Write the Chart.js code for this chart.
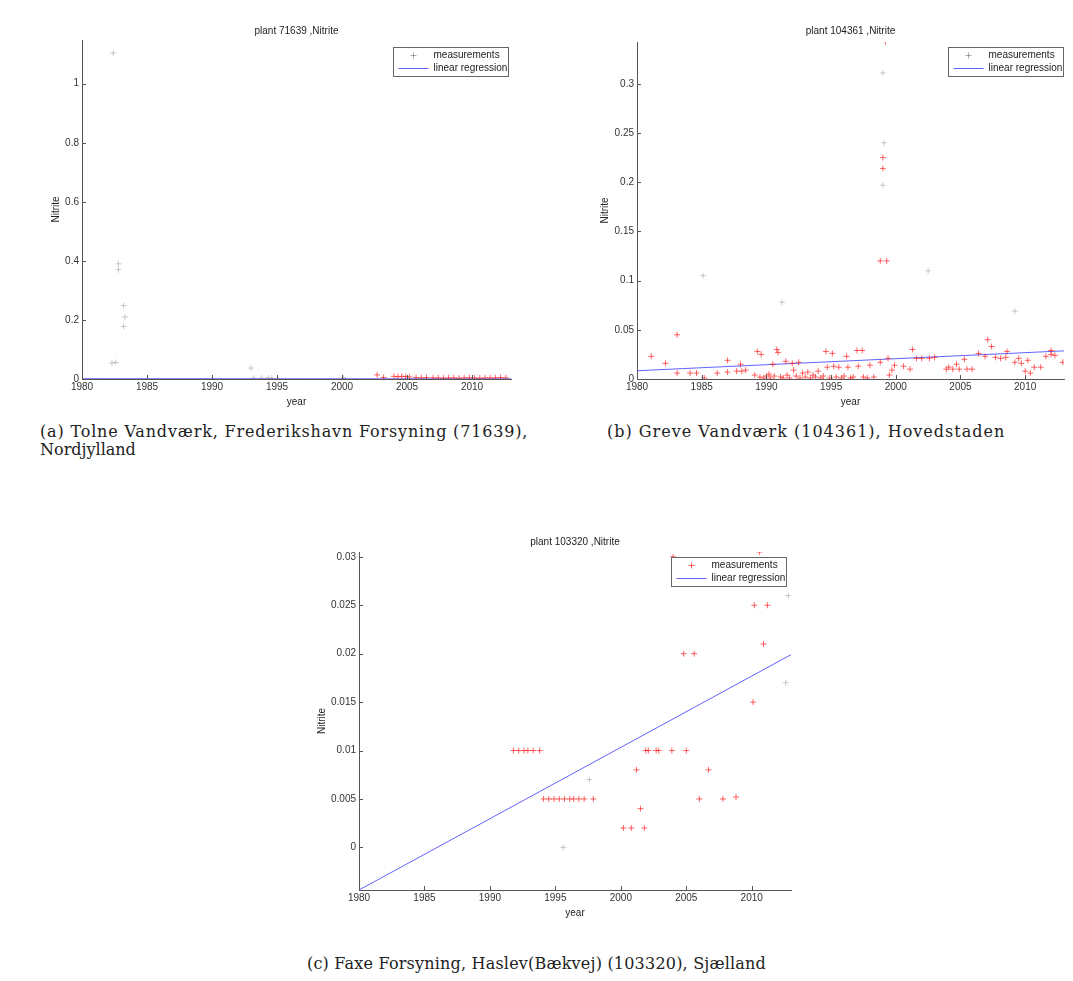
<!DOCTYPE html>
<html>
<head>
<meta charset="utf-8">
<script src="https://cdn.jsdelivr.net/npm/chart.js@4.4.0/dist/chart.umd.min.js"></script>
<style>
  body { margin: 0; background: #fff; width: 1073px; height: 981px; position: relative; overflow: hidden; }
  canvas { position: absolute; }
  .cap { position: absolute; font-family: "DejaVu Serif", "Liberation Serif", serif; font-size: 16px; line-height: 18px; color: #222; white-space: nowrap; }
</style>
</head>
<body>
<canvas id="plotA" width="540" height="420" style="left:0;top:0"></canvas>
<canvas id="plotB" width="528" height="420" style="left:545px;top:0"></canvas>
<canvas id="plotC" width="560" height="440" style="left:270px;top:500px"></canvas>

<div class="cap" data-w="488" style="left:40px;top:423px">(a) Tolne Vandværk, Frederikshavn Forsyning (71639),</div>
<div class="cap" style="left:40px;top:441px">Nordjylland</div>
<div class="cap" data-w="455" style="left:607px;top:423px">(b) Greve Vandværk (104361), Hovedstaden</div>
<div class="cap" data-w="459" style="left:307px;top:955px">(c) Faxe Forsyning, Haslev(Bækvej) (103320), Sjælland</div>

<script>
// x range of the regression lines
let regYears = [1980, 2013];

// plant 71639
let yearsA = [2002.7, 2003.2, 2004.0, 2004.3, 2004.6, 2004.9, 2005.2, 2005.7, 2006.1, 2006.5, 2007.0, 2007.4, 2007.8,
              2008.2, 2008.6, 2009.0, 2009.4, 2009.8, 2010.2, 2010.6, 2011.0, 2011.4, 2011.8, 2012.2, 2012.6];
let nitriteA = [0.014, 0.005, 0.009, 0.008, 0.009, 0.008, 0.007, 0.005, 0.004, 0.005, 0.004, 0.004, 0.003,
                0.004, 0.004, 0.003, 0.004, 0.004, 0.004, 0.003, 0.004, 0.004, 0.004, 0.005, 0.004];
let yearsAFaint = [1982.4, 1982.3, 1982.6, 1982.8, 1982.8, 1983.2, 1983.3, 1983.2, 1993.0, 1993.2, 1993.8, 1994.3, 1994.6, 2000.1];
let nitriteAFaint = [1.104, 0.054, 0.056, 0.39, 0.37, 0.249, 0.21, 0.178, 0.037, 0.003, 0.003, 0.003, 0.003, 0.004];
let regA = [0.001, 0.0005];

// plant 104361
let yearsB = [1981.1, 1982.2, 1983.1, 1983.1, 1984.1, 1984.6, 1985.2, 1986.2, 1987.0, 1987.0, 1987.7, 1988.0, 1988.1, 1988.4,
              1989.1, 1989.3, 1989.5, 1989.6, 1989.8, 1990.0, 1990.2, 1990.3, 1990.5, 1990.6, 1990.8, 1990.9, 1991.1, 1991.3,
              1991.5, 1991.6, 1991.8, 1992.0, 1992.1, 1992.3, 1992.5, 1992.6, 1992.8, 1993.0, 1993.2, 1993.4, 1993.6, 1993.8,
              1994.0, 1994.2, 1994.4, 1994.6, 1994.7, 1994.9, 1995.1, 1995.2, 1995.4, 1995.6, 1995.8, 1996.0, 1996.2, 1996.3,
              1996.5, 1996.7, 1997.0, 1997.1, 1997.4, 1997.5, 1997.8, 1998.0, 1998.3, 1998.8, 1998.8, 1999.2, 1999.0, 1999.0,
              1999.3, 1999.4, 1999.5, 1999.7, 1999.9, 2000.6, 2001.1, 2001.3, 2001.6, 2002.0, 2002.6, 2003.0, 2003.9, 2004.1,
              2004.4, 2004.7, 2004.9, 2005.3, 2005.5, 2005.9, 2006.4, 2006.9, 2007.1, 2007.4, 2007.7, 2008.1, 2008.5, 2008.6,
              2009.2, 2009.5, 2009.7, 2010.0, 2010.2, 2010.4, 2010.7, 2011.2, 2011.6, 2012.0, 2012.0, 2012.3, 2012.9];
let nitriteB = [0.023, 0.016, 0.045, 0.006, 0.006, 0.006, 0.001, 0.006, 0.019, 0.007, 0.008, 0.015, 0.008, 0.009,
                0.004, 0.028, 0.002, 0.025, 0.001, 0.003, 0.005, 0.001, 0.015, 0.003, 0.030, 0.027, 0.002, 0.001,
                0.018, 0.004, 0.001, 0.016, 0.009, 0.003, 0.017, 0.001, 0.006, 0.002, 0.007, 0.001, 0.004, 0.002,
                0.008, 0.001, 0.003, 0.028, 0.012, 0.001, 0.026, 0.013, 0.002, 0.012, 0.001, 0.003, 0.023, 0.012,
                0.001, 0.002, 0.029, 0.013, 0.029, 0.002, 0.001, 0.014, 0.002, 0.017, 0.120, 0.343, 0.225, 0.214,
                0.120, 0.021, 0.004, 0.009, 0.014, 0.013, 0.010, 0.030, 0.021, 0.021, 0.021, 0.022, 0.010, 0.012,
                0.010, 0.015, 0.010, 0.020, 0.010, 0.010, 0.026, 0.023, 0.040, 0.033, 0.022, 0.021, 0.022, 0.028,
                0.017, 0.021, 0.016, 0.008, 0.019, 0.006, 0.012, 0.012, 0.023, 0.029, 0.025, 0.024, 0.017];
let yearsBFaint = [1985.1, 1991.2, 2002.5, 2009.2, 1999.0, 1999.1, 1999.0];
let nitriteBFaint = [0.105, 0.078, 0.110, 0.069, 0.311, 0.240, 0.197];
let regB = [0.0084, 0.0286];

// plant 103320
let yearsC = [1991.8, 1992.2, 1992.6, 1992.9, 1993.3, 1993.8, 1994.1, 1994.5, 1994.9, 1995.3, 1995.7, 1996.1, 1996.4,
              1996.8, 1997.2, 1997.9, 2000.2, 2000.8, 2001.8, 2001.2, 2001.5, 2001.9, 2002.1, 2002.7, 2002.9, 2003.9,
              2005.0, 2004.0, 2004.8, 2005.6, 2006.0, 2006.7, 2007.8, 2008.8, 2010.1, 2010.2, 2011.2, 2010.6, 2010.9];
let nitriteC = [0.010, 0.010, 0.010, 0.010, 0.010, 0.010, 0.005, 0.005, 0.005, 0.005, 0.005, 0.005, 0.005,
                0.005, 0.005, 0.005, 0.002, 0.002, 0.002, 0.008, 0.004, 0.010, 0.010, 0.010, 0.010, 0.010,
                0.010, 0.030, 0.020, 0.020, 0.005, 0.008, 0.005, 0.0052, 0.015, 0.025, 0.025, 0.0305, 0.021];
let yearsCFaint = [1995.6, 1997.6, 2012.8, 2012.6];
let nitriteCFaint = [0.0, 0.007, 0.026, 0.017];
let regC = [-0.0044, 0.0199];

const family = '"Liberation Sans", Arial, sans-serif';
const red = 'rgba(255, 0, 0, 0.6)';
const faint = 'rgba(110, 110, 110, 0.35)';
const blue = 'rgba(70, 70, 255, 0.85)';

function zip(xs, ys) {
    return xs.map((x, i) => ({ x: x, y: ys[i] }));
}

// widen the captions a little towards the width they have on the scanned page
document.querySelectorAll('.cap[data-w]').forEach(el => {
    let natural = el.getBoundingClientRect().width;
    let ls = Math.max(Math.min((+el.dataset.w - natural) / el.textContent.length, 1), 0);
    el.style.letterSpacing = ls.toFixed(2) + 'px';
});

// MATLAB style ticks pointing into the axes
const inwardTicks = {
    id: 'inwardTicks',
    afterDatasetsDraw(chart) {
        const { ctx, chartArea, scales } = chart;
        ctx.save();
        ctx.strokeStyle = '#555';
        ctx.lineWidth = 1;
        ctx.beginPath();
        scales.x.ticks.forEach(t => {
            let px = Math.round(scales.x.getPixelForValue(t.value)) + 0.5;
            ctx.moveTo(px, chartArea.bottom);
            ctx.lineTo(px, chartArea.bottom - 4);
        });
        scales.y.ticks.forEach(t => {
            let py = Math.round(scales.y.getPixelForValue(t.value)) + 0.5;
            ctx.moveTo(chartArea.left, py);
            ctx.lineTo(chartArea.left + 4, py);
        });
        ctx.stroke();
        ctx.restore();
    }
};

// boxed legend inside the top right corner
const boxLegend = {
    id: 'boxLegend',
    afterDraw(chart, args, opts) {
        const { ctx, chartArea } = chart;
        const w = 115, h = 29;
        const x0 = Math.round(chartArea.right - opts.right - w) + 0.5;
        const y0 = Math.round(chartArea.top + opts.top) + 0.5;
        const sets = chart.data.datasets.filter(d => d.label);
        ctx.save();
        ctx.fillStyle = '#fff';
        ctx.fillRect(x0, y0, w, h);
        ctx.strokeStyle = '#666';
        ctx.lineWidth = 1;
        ctx.strokeRect(x0, y0, w, h);
        ctx.font = '10px ' + family;
        ctx.textBaseline = 'middle';
        sets.forEach((d, i) => {
            let ry = y0 + 8 + i * 13;
            ctx.strokeStyle = i === 0 ? opts.markerColor : d.borderColor;
            ctx.beginPath();
            if (d.showLine) {
                ctx.moveTo(x0 + 5, ry);
                ctx.lineTo(x0 + 35, ry);
            } else {
                ctx.moveTo(x0 + 17, ry);
                ctx.lineTo(x0 + 23, ry);
                ctx.moveTo(x0 + 20, ry - 3);
                ctx.lineTo(x0 + 20, ry + 3);
            }
            ctx.stroke();
            ctx.fillStyle = '#222';
            ctx.fillText(d.label, x0 + 40, ry);
        });
        ctx.restore();
    }
};

function makeChart(id, o) {
    let font = { size: 10, family: family };
    return new Chart(document.getElementById(id), {
        type: 'scatter',
        data: {
            datasets: [{
                label: 'measurements',
                data: zip(o.years, o.values),
                pointStyle: 'cross',
                pointRadius: 3,
                pointBorderWidth: 1,
                borderColor: red,
                pointBorderColor: red
            }, {
                label: '',
                data: zip(o.fYears, o.fValues),
                pointStyle: 'cross',
                pointRadius: 3,
                pointBorderWidth: 1,
                borderColor: faint,
                pointBorderColor: faint
            }, {
                label: 'linear regression',
                data: zip(regYears, o.reg),
                showLine: true,
                pointRadius: 0,
                borderWidth: 1,
                borderColor: blue
            }]
        },
        options: {
            responsive: false,
            animation: false,
            events: [],
            layout: { padding: o.pad },
            scales: {
                x: {
                    type: 'linear',
                    min: 1980,
                    max: 2013,
                    grid: { display: false, drawTicks: false },
                    border: { display: true, color: '#555' },
                    ticks: {
                        stepSize: 5, includeBounds: false, autoSkip: false, maxRotation: 0,
                        padding: 2, color: '#333', font: font,
                        callback: v => String(v)
                    },
                    title: { display: true, text: 'year', padding: 0, color: '#222', font: font },
                    afterFit: s => { s.height = o.xH; }
                },
                y: {
                    type: 'linear',
                    min: o.yMin,
                    max: o.yMax,
                    grid: { display: false, drawTicks: false },
                    border: { display: true, color: '#555' },
                    ticks: {
                        stepSize: o.yStep, includeBounds: false, padding: 3, color: '#333', font: font,
                        callback: v => String(Number(v.toFixed(6)))
                    },
                    title: { display: true, text: 'Nitrite', padding: 0, color: '#222', font: font },
                    afterFit: s => { s.width = o.yW; }
                }
            },
            plugins: {
                legend: { display: false },
                tooltip: { enabled: false },
                title: {
                    display: true, text: o.title, fullSize: false, color: '#222',
                    padding: { top: 0, bottom: o.tB }, font: { size: 10, weight: 'normal', family: family }
                },
                boxLegend: { right: o.legR, top: o.legT, markerColor: o.legMarker }
            }
        },
        plugins: [inwardTicks, boxLegend]
    });
}

makeChart('plotA', {
    title: 'plant 71639 ,Nitrite',
    years: yearsA, values: nitriteA, fYears: yearsAFaint, fValues: nitriteAFaint, reg: regA,
    yMin: 0, yMax: 1.148, yStep: 0.2,
    pad: { left: 50, right: 29, top: 25, bottom: 12 }, yW: 32, xH: 29, tB: 3,
    legR: 3, legT: 7, legMarker: 'rgba(110,110,110,0.6)'
});

makeChart('plotB', {
    title: 'plant 104361 ,Nitrite',
    years: yearsB, values: nitriteB, fYears: yearsBFaint, fValues: nitriteBFaint, reg: regB,
    yMin: 0, yMax: 0.3425, yStep: 0.05,
    pad: { left: 54, right: 9, top: 25, bottom: 12 }, yW: 38, xH: 29, tB: 5,
    legR: 1, legT: 5, legMarker: 'rgba(110,110,110,0.6)'
});

makeChart('plotC', {
    title: 'plant 103320 ,Nitrite',
    years: yearsC, values: nitriteC, fYears: yearsCFaint, fValues: nitriteCFaint, reg: regC,
    yMin: -0.0044, yMax: 0.0305, yStep: 0.005,
    pad: { left: 46, right: 39, top: 36, bottom: 21 }, yW: 43, xH: 29, tB: 4,
    legR: 5, legT: 5, legMarker: red
});
</script>
</body>
</html>
